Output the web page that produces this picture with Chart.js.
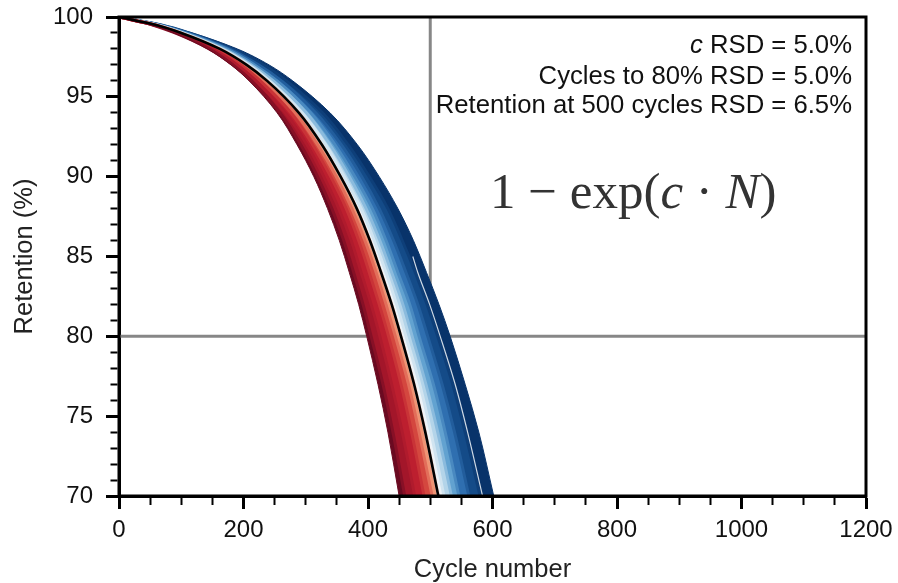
<!DOCTYPE html>
<html>
<head>
<meta charset="utf-8">
<script src="https://cdn.jsdelivr.net/npm/chart.js@4.4.1/dist/chart.umd.min.js"></script>
<style>
  html, body { margin: 0; padding: 0; background: #fff; }
  #wrap { width: 898px; height: 583px; position: relative; }
</style>
</head>
<body>
<div id="wrap"><canvas id="js--retentionChart"></canvas></div>
<script>
// retention levels (%) where the curves were read, same for every curve
const retention = [100, 99.5, 99, 98, 97, 96, 94, 92, 90, 88, 86, 84, 82, 80, 77, 74, 70];

// cycle number at each retention level, left (red, high c) to right (blue, low c)
const edgeRed  = [0, 53, 88, 142, 180, 209, 254, 286, 313, 335, 354, 370, 385, 398, 416, 432, 450];
const red2     = [0, 54, 90, 145, 183, 213, 259, 292, 319, 342, 361, 377, 392, 405, 424, 440, 459];
const red3     = [0, 56, 93, 150, 190, 220, 267, 302, 329, 353, 373, 389, 405, 419, 438, 455, 475];
const red4     = [0, 57, 96, 155, 196, 227, 276, 311, 340, 365, 385, 402, 418, 433, 453, 470, 490];
const red5     = [0, 59, 98, 159, 201, 233, 283, 319, 349, 374, 395, 413, 429, 444, 465, 482, 503];
const middle   = [0, 60, 100, 162, 205, 238, 289, 326, 356, 382, 403, 421, 438, 453, 474, 492, 513];
const blue1    = [0, 61, 102, 165, 209, 242, 294, 332, 362, 389, 410, 429, 446, 461, 483, 501, 522];
const blue2    = [0, 62, 104, 168, 213, 248, 301, 339, 370, 397, 419, 438, 456, 471, 493, 512, 534];
const blue3    = [0, 64, 107, 173, 218, 254, 308, 347, 379, 407, 429, 448, 467, 482, 505, 524, 546];
const blue4    = [0, 66, 110, 177, 224, 261, 316, 357, 390, 418, 441, 461, 480, 496, 519, 539, 562];
const blue5    = [0, 68, 113, 183, 232, 269, 327, 368, 402, 432, 455, 476, 495, 512, 536, 556, 580];
const edgeBlue = [0, 70, 117, 190, 241, 279, 339, 383, 418, 448, 473, 494, 514, 532, 556, 578, 602];

// thin light streak inside the blue part
const streakRetention = [85, 84, 82, 80, 77, 74, 70];
const streakCycles    = [472, 480, 499, 516, 540, 560, 584];

// grey guide lines
const guideCycles = 500;
const guideRetention = 80;

// axes
const cycleMin = 0, cycleMax = 1200, cycleMinor = 50, cycleMajor = 200;
const retMin = 70, retMax = 100, retMinor = 1, retMajor = 5;

const noteLines = ["Cycles to 80% RSD = 5.0%", "Retention at 500 cycles RSD = 6.5%"];
const noteFirst = " RSD = 5.0%";

const bandColours = ["#6a0a21", "#a3162a", "#bd1f2f", "#d4473f", "#ef9474",
                     "#eef3f7", "#b3d4e9", "#62a2d0", "#2f6fb0", "#144b88", "#08336a"];

const curves = [edgeRed, red2, red3, red4, red5, middle, blue1, blue2, blue3, blue4, blue5, edgeBlue];

function toPoints(cycles, levels) {
    return cycles.map(function (n, i) { return { x: n, y: levels[i] }; });
}

// halfway colour between two bands, softens the steps
function mix(a, b) {
    const pa = [1, 3, 5].map(k => parseInt(a.substr(k, 2), 16));
    const pb = [1, 3, 5].map(k => parseInt(b.substr(k, 2), 16));
    return "rgb(" + pa.map((v, k) => Math.round((v + pb[k]) / 2)).join(",") + ")";
}

const datasets = [];

// bands, each filled to the curve before it
curves.forEach(function (curve, i) {
    const fillColour = bandColours[Math.max(i - 1, 0)];
    let edge;
    if (i === 0) edge = bandColours[0];
    else if (i === curves.length - 1) edge = bandColours[bandColours.length - 1];
    else edge = mix(bandColours[i - 1], bandColours[i]);
    datasets.push({
        data: toPoints(curve, retention),
        fill: i === 0 ? false : "-1",
        backgroundColor: fillColour,
        borderColor: edge,
        borderWidth: (i === 0 || i === curves.length - 1) ? 1 : 3,
        pointRadius: 0,
        cubicInterpolationMode: "monotone",
        order: 1
    });
});

// the black middle curve
datasets.push({
    data: toPoints(middle, retention),
    borderColor: "#000",
    borderWidth: 2.6,
    pointRadius: 0,
    fill: false,
    cubicInterpolationMode: "monotone",
    order: 0
});

datasets.push({
    data: toPoints(streakCycles, streakRetention),
    borderColor: "rgba(228,236,244,0.9)",
    borderWidth: 1.2,
    pointRadius: 0,
    fill: false,
    cubicInterpolationMode: "monotone",
    order: 0
});

// guide lines (under everything)
datasets.push({
    data: [{ x: guideCycles, y: retMin }, { x: guideCycles, y: retMax }],
    borderColor: "#878787",
    borderWidth: 3,
    pointRadius: 0,
    fill: false,
    order: 2
});
datasets.push({
    data: [{ x: cycleMin, y: guideRetention }, { x: cycleMax, y: guideRetention }],
    borderColor: "#878787",
    borderWidth: 3,
    pointRadius: 0,
    fill: false,
    order: 2
});

const textPlugin = {
    id: "notes",
    afterDraw(chart) {
        const ctx = chart.ctx;
        const area = chart.chartArea;
        ctx.save();

        // frame
        ctx.strokeStyle = "#000";
        ctx.lineWidth = 3;
        ctx.strokeRect(area.left, area.top, area.right - area.left, area.bottom - area.top);

        // RSD notes, right aligned
        const right = 852;
        const noteFont = "25.7px 'Liberation Sans', Arial, sans-serif";
        ctx.fillStyle = "#111";
        ctx.textAlign = "left";
        ctx.textBaseline = "alphabetic";
        ctx.font = noteFont;
        const w1 = ctx.measureText(noteFirst).width;
        ctx.fillText(noteFirst, right - w1, 53);
        ctx.font = "italic " + noteFont;
        const wc = ctx.measureText("c").width;
        ctx.fillText("c", right - w1 - wc, 53);
        ctx.font = noteFont;
        ctx.textAlign = "right";
        ctx.fillText(noteLines[0], right, 84);
        ctx.fillText(noteLines[1], right, 113);

        // formula
        const parts = [["1", false], [" \u2212 ", false], ["exp(", false], ["c", true],
                       [" \u00b7 ", false], ["N", true], [")", false]];
        let x = 490;
        ctx.textAlign = "left";
        ctx.fillStyle = "#333";
        parts.forEach(function (p) {
            ctx.font = (p[1] ? "italic " : "") + "51px 'Liberation Serif', 'DejaVu Serif', serif";
            ctx.fillText(p[0], x, 208);
            x += ctx.measureText(p[0]).width;
        });
        ctx.restore();
    }
};

Chart.defaults.font.family = "'Liberation Sans', Arial, sans-serif";

const tickFont = { size: 24 };
const titleFont = { size: 25.5 };

new Chart(document.getElementById("js--retentionChart"), {
    type: "line",
    data: { datasets: datasets },
    options: {
        indexAxis: "y",
        responsive: true,
        maintainAspectRatio: false,
        animation: false,
        layout: { padding: { top: 17, right: 32, left: 0, bottom: 0 } },
        plugins: {
            legend: { display: false },
            tooltip: { enabled: false }
        },
        scales: {
            x: {
                type: "linear",
                min: cycleMin,
                max: cycleMax,
                z: 1,
                afterFit: function (scale) {
                    scale.height = 87;
                    scale.paddingLeft = 0;
                    scale.paddingRight = 0;
                },
                ticks: {
                    stepSize: cycleMinor,
                    autoSkip: false,
                    maxRotation: 0,
                    padding: 7,
                    color: "#111",
                    font: tickFont,
                    callback: function (v) { return v % cycleMajor === 0 ? v : ""; }
                },
                grid: {
                    drawOnChartArea: false,
                    tickLength: 13,
                    tickColor: "#000",
                    tickWidth: function (c) { return c.tick && c.tick.value % cycleMajor === 0 ? 3 : 2; },
                    tickBorderDash: function (c) { return c.tick && c.tick.value % cycleMajor !== 0 ? [7, 100] : []; }
                },
                border: { display: true, color: "#000", width: 3 },
                title: { display: true, text: "Cycle number", color: "#222", font: titleFont, padding: { bottom: -2 } }
            },
            y: {
                type: "linear",
                min: retMin,
                max: retMax,
                z: 1,
                afterFit: function (scale) {
                    scale.width = 119;
                    scale.paddingTop = 0;
                    scale.paddingBottom = 0;
                },
                ticks: {
                    stepSize: retMinor,
                    autoSkip: false,
                    padding: 13,
                    color: "#111",
                    font: tickFont,
                    callback: function (v) { return v % retMajor === 0 ? v : ""; }
                },
                grid: {
                    drawOnChartArea: false,
                    tickLength: 13,
                    tickColor: "#000",
                    tickWidth: function (c) { return c.tick && c.tick.value % retMajor === 0 ? 3 : 2; },
                    tickBorderDash: function (c) { return c.tick && c.tick.value % retMajor !== 0 ? [0, 4.5, 7, 100] : []; }
                },
                border: { display: true, color: "#000", width: 3 },
                title: { display: true, text: "Retention (%)", color: "#222", font: titleFont, padding: { top: 10 } }
            }
        }
    },
    plugins: [textPlugin]
});
</script>
</body>
</html>
